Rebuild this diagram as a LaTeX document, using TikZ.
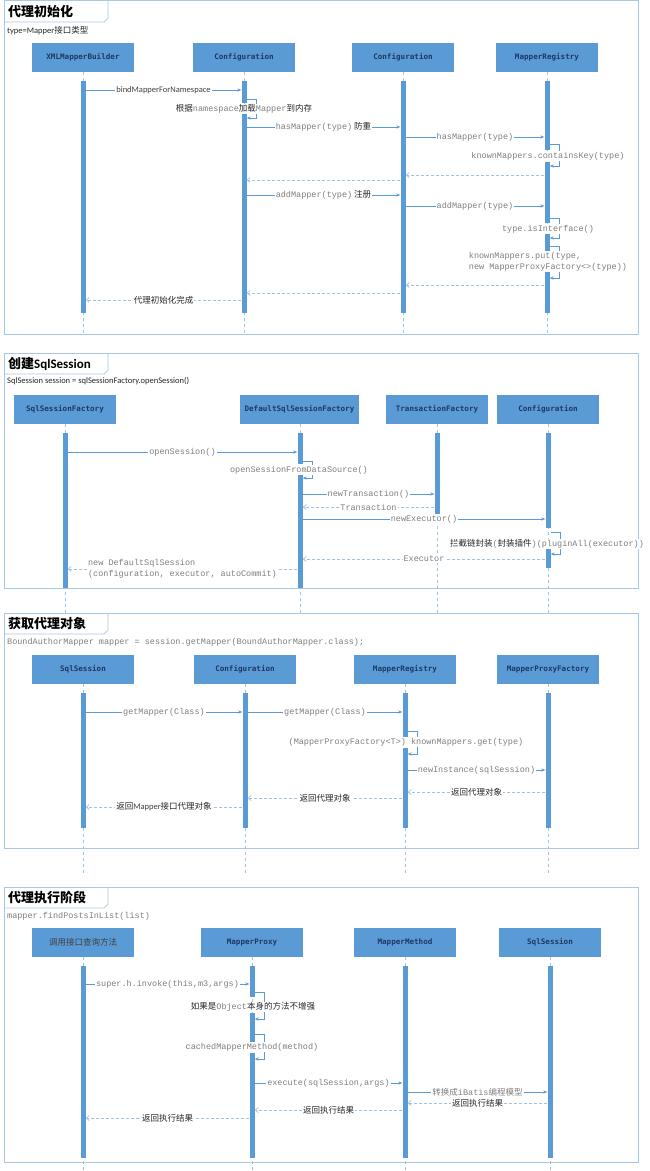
\documentclass[tikz,border=0pt]{standalone}
\usepackage{fontspec}
\usetikzlibrary{arrows.meta}
\setmainfont{Carlito}
\newfontfamily\cjk{Noto Sans CJK SC}
\newfontfamily\mono{Liberation Mono}
\newfontfamily\boxfont{DejaVu Sans Mono}
\definecolor{boxblue}{HTML}{5B9BD5}
\definecolor{boxtext}{HTML}{1F3864}
\definecolor{lineblue}{HTML}{5B9BD5}
\definecolor{retblue}{HTML}{9DC3E6}
\definecolor{framec}{HTML}{A8C8E6}
\definecolor{mgray}{HTML}{7F7F7F}
\definecolor{tdark}{HTML}{262626}
\definecolor{sdark}{HTML}{404040}
\newcommand\mt[1]{{\mono\color{mgray}#1}}
\newcommand\ct[1]{{\cjk\color{tdark}#1}}
\newcommand\actbar[4]{\node[actbar, minimum height={(#4-#3)*1pt}] (#1) at (#2,{(#3+#4)/2}) {};}
\newcommand\secframe[3]{%
  \draw[frame] (4,#1) rectangle (638,#2);
  \draw[frame] (4,#3) -- (104,#3) -- (108,{#3-4}) -- (108,#1);}
\tikzset{
  x=1pt,y=-1pt,
  participant/.style={fill=boxblue, draw=none, minimum width=102pt, minimum height=29pt, inner sep=0pt,
    font=\boxfont\bfseries\fontsize{7.6}{9}\selectfont, text=boxtext},
  actbar/.style={fill=boxblue, draw=none, minimum width=5pt, inner sep=0pt},
  lifeline/.style={draw=retblue, dash pattern=on 3pt off 3pt, line width=0.6pt},
  msg/.style={draw=lineblue, line width=0.6pt, -{Stealth[length=4pt,width=3.2pt]}},
  ret/.style={draw=retblue, line width=0.7pt, dash pattern=on 3pt off 2pt, -{Straight Barb[length=3pt,width=5pt]}},
  lbl/.style={fill=white, inner sep=1pt, font=\fontsize{8.5}{9.5}\selectfont, text=sdark},
  frame/.style={draw=framec, line width=0.7pt},
  sectitle/.style={font=\cjk\bfseries\fontsize{13}{15}\selectfont, anchor=west, text=black, inner sep=0pt},
  subtitle/.style={anchor=west, inner sep=0pt, font=\fontsize{8.5}{10}\selectfont, text=tdark},
}
\begin{document}
\begin{tikzpicture}
\useasboundingbox (0,0) rectangle (650,1171);
\fill[white] (0,0) rectangle (650,1171);

%================ Section 1 =================
\secframe{0.5}{334}{22}
\node[sectitle] (t1) at (8,12) {代理初始化};
\node[subtitle] (st1) at (7,31) {type=Mapper\ct{接口类型}};
\node[participant] (xmb) at (83,57.5) {XMLMapperBuilder};
\node[participant] (cfgA) at (244,57.5) {Configuration};
\node[participant] (cfgB) at (403,57.5) {Configuration};
\node[participant] (mrA) at (547,57.5) {MapperRegistry};
\foreach \p in {xmb,cfgA,cfgB,mrA} \draw[lifeline] (\p.south) -- (\p.south |- 0,334);
\actbar{b1}{83}{81}{313}
\actbar{c1a}{244}{81}{103}
\actbar{c1b}{244}{113}{313}
\actbar{c2}{403}{81}{313}
\actbar{r1a}{547}{81}{150}
\actbar{r1b}{547}{162}{223}
\actbar{r1c}{547}{234}{251}
\actbar{r1d}{547}{272}{313}
\draw[msg] (b1.east |- 0,90) -- node[lbl] {bindMapperForNamespace} (c1a.west |- 0,90);
\draw[msg] (c1a.east |- 0,99) -- ++(10,0) |- (c1b.east |- 0,118);
\node[lbl] (l1) at (244,109) {\ct{根据}\mt{namespace}\ct{加载}\mt{Mapper}\ct{到内存}};
\draw[msg] (c1b.east |- 0,127) -- node[lbl] {\mt{hasMapper(type)} \ct{防重}} (c2.west |- 0,127);
\draw[msg] (c2.east |- 0,137) -- node[lbl] {\mt{hasMapper(type)}} (r1a.west |- 0,137);
\draw[msg] (r1a.east |- 0,144) -- ++(10,0) |- (r1b.east |- 0,166);
\node[lbl] (l2) at (548,156) {\mt{knownMappers.containsKey(type)}};
\draw[ret] (r1b.west |- 0,175) -- (c2.east |- 0,175);
\draw[ret] (c2.west |- 0,180) -- (c1b.east |- 0,180);
\draw[msg] (c1b.east |- 0,195) -- node[lbl] {\mt{addMapper(type)} \ct{注册}} (c2.west |- 0,195);
\draw[msg] (c2.east |- 0,206) -- node[lbl] {\mt{addMapper(type)}} (r1b.west |- 0,206);
\draw[msg] (r1b.east |- 0,218) -- ++(10,0) |- (r1c.east |- 0,238);
\node[lbl] (l3) at (548,229) {\mt{type.isInterface()}};
\draw[msg] (r1c.east |- 0,246) -- ++(10,0) |- (r1d.east |- 0,278);
\node[lbl, align=left, font=\mono\fontsize{8.5}{11}\selectfont, text=mgray] (l4) at (548,261.5) {knownMappers.put(type,\\new MapperProxyFactory<>(type))};
\draw[ret] (r1d.west |- 0,285) -- (c2.east |- 0,285);
\draw[ret] (c2.west |- 0,293) -- (c1b.east |- 0,293);
\draw[ret] (c1b.west |- 0,300) -- node[lbl] {\ct{代理初始化完成}} (b1.east |- 0,300);

%================ Section 2 =================
\secframe{353}{588}{374}
\node[sectitle] (t2) at (8,364) {创建{\rmfamily SqlSession}};
\node[subtitle] (st2) at (7,381) {SqlSession session = sqlSessionFactory.openSession()};
\node[participant] (ssf) at (65,409.5) {SqlSessionFactory};
\node[participant, minimum width=119pt] (dssf) at (299.5,409.5) {DefaultSqlSessionFactory};
\node[participant] (tf) at (437,409.5) {TransactionFactory};
\node[participant] (cfgC) at (548,409.5) {Configuration};
\foreach \p in {ssf,tf,cfgC} \draw[lifeline] (\p.south) -- (\p.south |- 0,613);
\draw[lifeline] (300,424) -- (300,613);
\actbar{s1}{65}{433}{588}
\actbar{d1a}{300}{433}{464}
\actbar{d1b}{300}{474}{588}
\actbar{tb1}{437}{433}{514}
\actbar{g1a}{548}{433}{528}
\actbar{g1b}{548}{549}{568}
\draw[msg] (s1.east |- 0,452) -- node[lbl] {\mt{openSession()}} (d1a.west |- 0,452);
\draw[msg] (d1a.east |- 0,461) -- ++(10,0) |- (d1b.east |- 0,478);
\node[lbl] (l5) at (299,470) {\mt{openSessionFromDataSource()}};
\draw[msg] (d1b.east |- 0,494) -- node[lbl] {\mt{newTransaction()}} (tb1.west |- 0,494);
\draw[ret] (tb1.west |- 0,507) -- node[lbl] {\mt{Transaction}} (d1b.east |- 0,507);
\draw[msg] (d1b.east |- 0,519) -- node[lbl] {\mt{newExecutor()}} (g1a.west |- 0,519);
\draw[msg] (g1a.east |- 0,532) -- ++(10,0) |- (g1b.east |- 0,554);
\node[lbl] (l6) at (547,544) {\ct{拦截链封装}\mt{(}\ct{封装插件}\mt{)(pluginAll(executor))}};
\draw[ret] (g1b.west |- 0,559) -- node[lbl] {\mt{Executor}} (d1b.east |- 0,559);
\draw[ret] (d1b.west |- 0,569) -- node[lbl, align=left, font=\mono\fontsize{8.5}{10.5}\selectfont, text=mgray] {new DefaultSqlSession\\(configuration, executor, autoCommit)} (s1.east |- 0,569);

%================ Section 3 =================
\secframe{613}{848}{634}
\node[sectitle] (t3) at (8,624) {获取代理对象};
\node[subtitle] (st3) at (7,642) {\mt{BoundAuthorMapper mapper = session.getMapper(BoundAuthorMapper.class);}};
\node[participant] (ss3) at (83,669.5) {SqlSession};
\node[participant] (cfgD) at (245,669.5) {Configuration};
\node[participant] (mrB) at (405,669.5) {MapperRegistry};
\node[participant] (mpf) at (548,669.5) {MapperProxyFactory};
\foreach \p in {ss3,cfgD,mrB,mpf} \draw[lifeline] (\p.south) -- (\p.south |- 0,875);
\actbar{a3}{83}{693}{828}
\actbar{c3}{245}{693}{828}
\actbar{r3a}{405}{693}{737}
\actbar{r3b}{405}{748}{828}
\actbar{p3}{548}{693}{828}
\draw[msg] (a3.east |- 0,712) -- node[lbl] {\mt{getMapper(Class)}} (c3.west |- 0,712);
\draw[msg] (c3.east |- 0,712) -- node[lbl] {\mt{getMapper(Class)}} (r3a.west |- 0,712);
\draw[msg] (r3a.east |- 0,731) -- ++(10,0) |- (r3b.east |- 0,754);
\node[lbl] (l7) at (406,742) {\mt{(MapperProxyFactory<T>) knownMappers.get(type)}};
\draw[msg] (r3b.east |- 0,770) -- node[lbl] {\mt{newInstance(sqlSession)}} (p3.west |- 0,770);
\draw[ret] (p3.west |- 0,792) -- node[lbl] {\ct{返回代理对象}} (r3b.east |- 0,792);
\draw[ret] (r3b.west |- 0,798) -- node[lbl] {\ct{返回代理对象}} (c3.east |- 0,798);
\draw[ret] (c3.west |- 0,807) -- node[lbl] {\ct{返回}Mapper\ct{接口代理对象}} (a3.east |- 0,807);

%================ Section 4 =================
\secframe{887}{1162}{908}
\node[sectitle] (t4) at (8,898) {代理执行阶段};
\node[subtitle] (st4) at (7,916) {\mt{mapper.findPostsInList(list)}};
\node[participant, font=\cjk\fontsize{8.5}{10}\selectfont, text=sdark] (caller) at (83,942.5) {调用接口查询方法};
\node[participant] (mp) at (252,942.5) {MapperProxy};
\node[participant] (mm) at (405,942.5) {MapperMethod};
\node[participant] (ss4) at (550,942.5) {SqlSession};
\foreach \p in {caller,mp,mm,ss4} \draw[lifeline] (\p.south) -- (\p.south |- 0,1171);
\actbar{a4}{83}{966}{1158}
\actbar{p4a}{252}{966}{997}
\actbar{p4b}{252}{1013}{1042}
\actbar{p4c}{252}{1053}{1158}
\actbar{m4}{405}{966}{1158}
\actbar{s4}{550}{966}{1158}
\draw[msg] (a4.east |- 0,984) -- node[lbl] {\mt{super.h.invoke(this,m3,args)}} (p4a.west |- 0,984);
\draw[msg] (p4a.east |- 0,992) -- ++(10,0) |- (p4b.east |- 0,1019);
\node[lbl] (l8) at (253,1007) {\ct{如果是}\mt{Object}\ct{本身的方法不增强}};
\draw[msg] (p4b.east |- 0,1034) -- ++(10,0) |- (p4c.east |- 0,1059);
\node[lbl] (l9) at (252,1047) {\mt{cachedMapperMethod(method)}};
\draw[msg] (p4c.east |- 0,1083) -- node[lbl] {\mt{execute(sqlSession,args)}} (m4.west |- 0,1083);
\draw[msg] (m4.east |- 0,1092) -- node[lbl] {{\cjk\color{mgray}转换成}\mt{iBatis}{\cjk\color{mgray}编程模型}} (s4.west |- 0,1092);
\draw[ret] (s4.west |- 0,1103) -- node[lbl] {\ct{返回执行结果}} (m4.east |- 0,1103);
\draw[ret] (m4.west |- 0,1110) -- node[lbl] {\ct{返回执行结果}} (p4c.east |- 0,1110);
\draw[ret] (p4c.west |- 0,1118) -- node[lbl] {\ct{返回执行结果}} (a4.east |- 0,1118);
\end{tikzpicture}
\end{document}
